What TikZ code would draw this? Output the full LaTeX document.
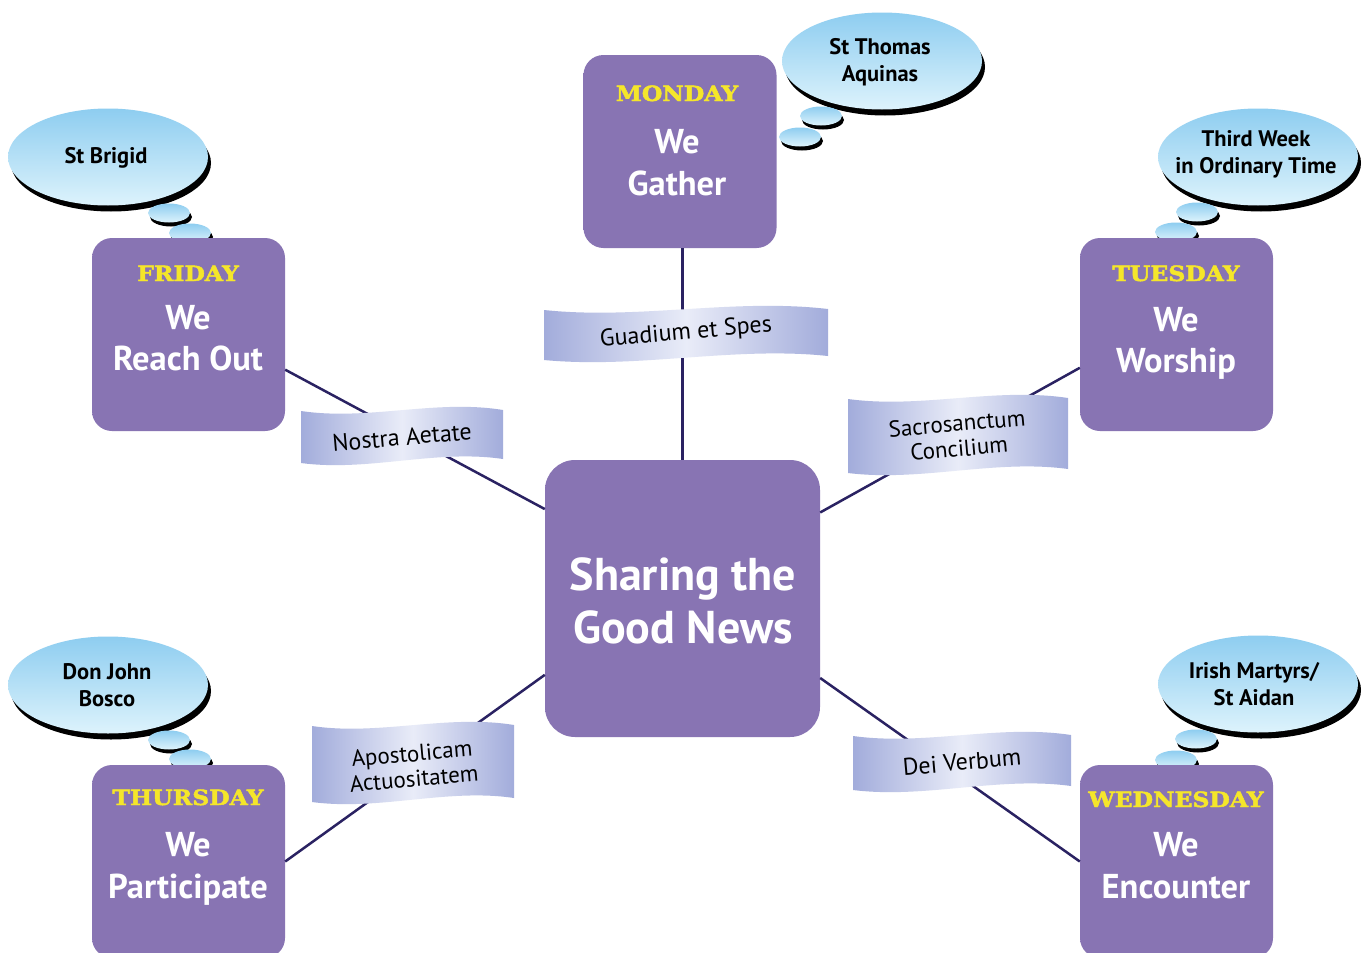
\documentclass[tikz,border=0pt]{standalone}
\usepackage{graphicx}
\usepackage{fontspec}
\setmainfont{PT Sans}
\newfontfamily\dayfont[FakeBold=2.2]{DejaVu Serif}
\usetikzlibrary{shapes.geometric,shadows}
\definecolor{boxmain}{HTML}{8874B3}
\definecolor{boxlight}{HTML}{A898CC}
\definecolor{boxdark}{HTML}{6A5A96}
\definecolor{dayyellow}{HTML}{F5E62A}
\definecolor{linecol}{HTML}{2A2262}
\definecolor{bubtop}{HTML}{8ECDF0}
\definecolor{bubbot}{HTML}{DDF3FC}
\definecolor{banedge}{HTML}{A2ACDB}
\definecolor{banmid}{HTML}{E9ECF8}
\pgfdeclarehorizontalshading{boxshade}{100bp}{color(0bp)=(boxlight); color(7bp)=(boxmain); color(93bp)=(boxmain); color(100bp)=(boxdark)}
\newcommand\flagshape[4]{%
  \path[left color=banedge, right color=banedge, middle color=banmid, shift={(#1,#2)}]
    ({-#3/2},{-#4/2}) .. controls ({-#3/6},{-#4/2+10}) and ({#3/6},{-#4/2-12}) .. ({#3/2},{-#4/2-1})
    -- ({#3/2},{#4/2-4}) .. controls ({#3/6},{#4/2-14}) and ({-#3/6},{#4/2+9}) .. ({-#3/2},{#4/2}) -- cycle;}
\tikzset{
  daybox/.style={rectangle, rounded corners=20pt, shade, shading=boxshade, minimum width=193pt, minimum height=193pt, inner sep=0pt},
  hubbox/.style={rectangle, rounded corners=30pt, shade, shading=boxshade, minimum width=275pt, minimum height=277pt, inner sep=0pt},
  bubble/.style={ellipse, top color=bubtop, bottom color=bubbot, minimum width=200pt, minimum height=97pt, inner sep=0pt,
    drop shadow={shadow xshift=3pt, shadow yshift=-6pt, opacity=1, fill=black}},
  bubtext/.style={font=\bfseries\fontsize{22.5}{27}\selectfont, align=center, inner sep=0pt},
  puff/.style={ellipse, top color=bubtop, bottom color=bubbot, minimum width=42pt, minimum height=19pt, inner sep=0pt,
    drop shadow={shadow xshift=2pt, shadow yshift=-4pt, opacity=1, fill=black}},
  conn/.style={draw=linecol, line width=2.5pt},
  bantext/.style={font=\fontsize{24}{23}\selectfont, align=center, rotate=5, inner sep=0pt},
  bantwo/.style={font=\fontsize{23}{25}\selectfont, align=center, rotate=5, inner sep=0pt},
  dayname/.style={anchor=base, text=dayyellow, font=\dayfont\bfseries\fontsize{21}{24}\selectfont, inner sep=0pt},
  weline/.style={anchor=base, text=white, font=\bfseries\fontsize{34.5}{40}\selectfont, inner sep=0pt},
  hubline/.style={anchor=base, text=white, font=\bfseries\fontsize{46}{55}\selectfont, inner sep=0pt}
}
\newcommand\dayword[1]{\scalebox{1.12}[1]{#1}}
\begin{document}
\begin{tikzpicture}[x=1pt,y=-1pt]
\useasboundingbox (0,0) rectangle (1368,953);
\clip (0,0) rectangle (1368,953);
\fill[white] (0,0) rectangle (1368,953);
% thought bubbles
\node[bubble] (bmon) at (882,61) {};
\node[bubtext] (tmon) at (880,62) {St Thomas\\Aquinas};
\node[puff] (pmon1) at (821,116) {};
\node[puff] (pmon2) at (800,137) {};
\node[bubble] (bfri) at (108,157) {};
\node[bubtext] (tfri) at (106,158) {St Brigid};
\node[puff] (pfri1) at (169,213) {};
\node[puff] (pfri2) at (190,233) {};
\node[bubble] (btue) at (1258,157) {};
\node[bubtext] (ttue) at (1256,154) {Third Week\\in Ordinary Time};
\node[puff] (ptue1) at (1197,212) {};
\node[puff] (ptue2) at (1176,232) {};
\node[bubble] (bthu) at (108,685) {};
\node[bubtext] (tthu) at (107,685) {Don John\\Bosco};
\node[puff] (pthu1) at (169,740) {};
\node[puff] (pthu2) at (190,759) {};
\node[bubble] (bwed) at (1258,684) {};
\node[bubtext] (twed) at (1254,684) {Irish Martyrs/\\St Aidan};
\node[puff] (pwed1) at (1196,739) {};
\node[puff] (pwed2) at (1176,760) {};
% boxes
\node[daybox] (monday) at (680,151.5) {};
\node[daybox] (friday) at (188.5,334.5) {};
\node[daybox] (tuesday) at (1176.5,334.5) {};
\node[daybox] (thursday) at (188.5,861.5) {};
\node[daybox] (wednesday) at (1176.5,861.5) {};
\node[hubbox] (center) at (682.5,598.5) {};
% connectors
\draw[conn] (monday.south -| center.north) -- (center.north);
\draw[conn] (friday.-20) -- (center.147.5);
\draw[conn] (tuesday.199) -- (center.32.5);
\draw[conn] (thursday.east) -- (center.209.4);
\draw[conn] (wednesday.west) -- (center.-30);
% banners
\flagshape{686}{335}{284}{50}
\node[bantext] (gs) at (686,333) {Guadium et Spes};
\flagshape{402}{437}{202}{52}
\node[bantext] (na) at (402,437) {Nostra Aetate};
\flagshape{958}{436}{220}{74}
\node[bantwo] (sc) at (958,436) {Sacrosanctum\\Concilium};
\flagshape{413}{764}{202}{76}
\node[bantwo] (aa) at (413,766) {Apostolicam\\Actuositatem};
\flagshape{962}{763}{218}{54}
\node[bantext] (dv) at (962,762) {Dei Verbum};
% box texts
\node[dayname] (monlbl) at (677,101) {\dayword{MONDAY}};
\node[weline] (mon1) at (677,153) {We};
\node[weline] (mon2) at (677,195) {Gather};
\node[dayname] (frilbl) at (188,281) {\dayword{FRIDAY}};
\node[weline] (fri1) at (188,329) {We};
\node[weline] (fri2) at (188,370) {Reach Out};
\node[dayname] (tuelbl) at (1176,281) {\dayword{TUESDAY}};
\node[weline] (tue1) at (1176,331) {We};
\node[weline] (tue2) at (1176,372) {Worship};
\node[dayname] (thulbl) at (188,805) {\dayword{THURSDAY}};
\node[weline] (thu1) at (188,856) {We};
\node[weline] (thu2) at (188,898) {Participate};
\node[dayname] (wedlbl) at (1176,807) {\dayword{WEDNESDAY}};
\node[weline] (wed1) at (1176,856) {We};
\node[weline] (wed2) at (1176,898) {Encounter};
\node[hubline] (hub1) at (683,590) {Sharing the};
\node[hubline] (hub2) at (683,643) {Good News};
\end{tikzpicture}
\end{document}
